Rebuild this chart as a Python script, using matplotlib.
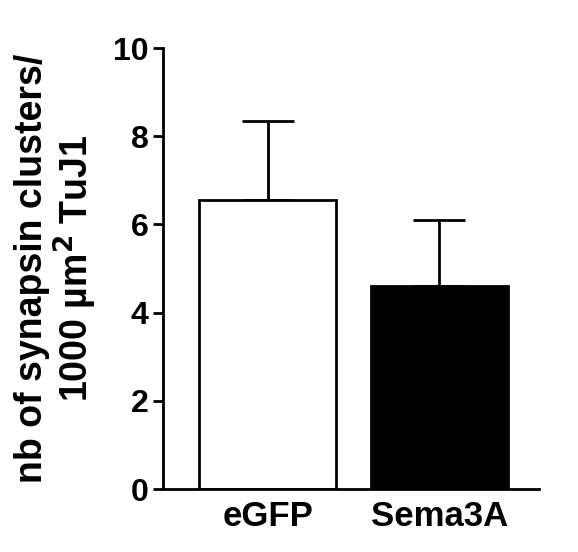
import matplotlib
matplotlib.use("Agg")
import matplotlib.pyplot as plt

categories = ["eGFP", "Sema3A"]
means = [6.55, 4.6]
errors = [1.8, 1.5]
colors = ["white", "black"]

plt.rcParams['font.family'] = ['Liberation Sans', 'DejaVu Sans']
plt.rcParams['font.weight'] = 'bold'
fig = plt.figure(figsize=(5.78, 5.52), dpi=100)
ax = fig.add_axes([0.282, 0.114, 0.65, 0.799])
x = list(range(len(categories)))
ax.bar(x, means, width=0.8, color=colors, edgecolor="black", linewidth=2, zorder=2)
ax.errorbar(x, means, yerr=[[0, 0], errors], fmt="none", ecolor="black",
            elinewidth=2, capsize=19, capthick=2, zorder=1)
ax.set_xlim(-0.61, 1.58)
ax.set_ylim(0, 10)
ax.set_yticks([0, 2, 4, 6, 8, 10])
ax.set_xticks(x)
ax.set_xticklabels(categories, fontsize=25, fontweight='bold')
ax.tick_params(axis='y', labelsize=23, width=2, length=7)
ax.tick_params(axis='x', length=0, pad=8)
for s in ['top', 'right']:
    ax.spines[s].set_visible(False)
for s in ['left', 'bottom']:
    ax.spines[s].set_linewidth(2)
ax.set_ylabel("nb of synapsin clusters/\n1000 µm$^{\\mathbf{2}}$ TuJ1", fontsize=27,
              fontweight='bold', labelpad=10, linespacing=1.05)
fig.savefig("out.png", dpi=100)
